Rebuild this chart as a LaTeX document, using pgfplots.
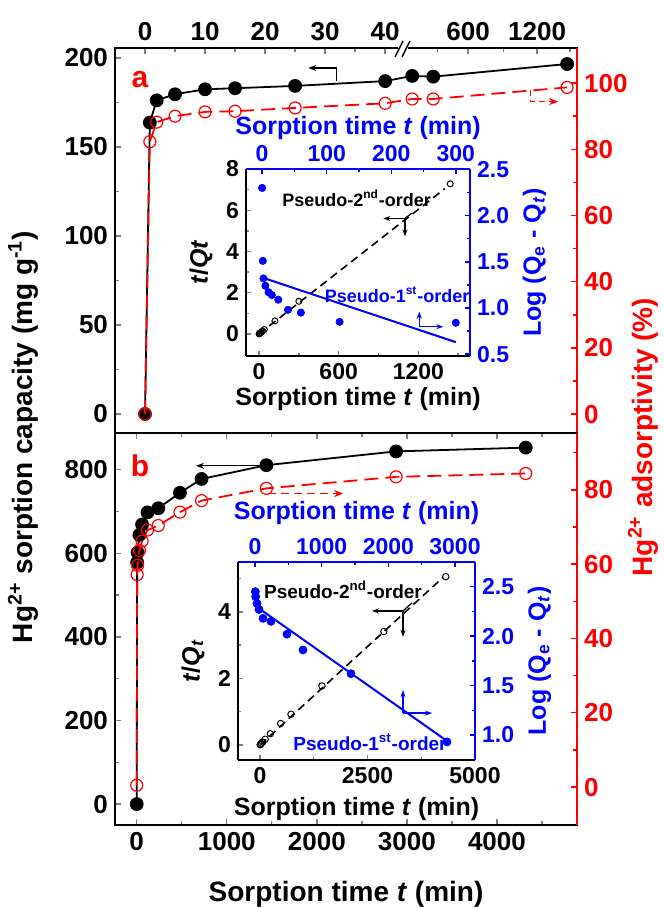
\documentclass[border=0pt]{standalone}
\usepackage{fontspec}
\setmainfont{Liberation Sans}
\usepackage{pgfplots}
\pgfplotsset{compat=1.18}
\usetikzlibrary{arrows.meta}

\definecolor{hgred}{RGB}{255,0,0}
\definecolor{fitblue}{RGB}{0,0,255}

\newcommand\fs[1]{\fontsize{#1}{#1}\selectfont\bfseries}

\pgfplotsset{
  base/.style={
    scale only axis, anchor=north west, clip=false,
    tick align=inside,
    axis line style={line width=0.9pt},
    major tick length=3pt, minor tick length=1.8pt,
    every tick/.append style={line width=0.7pt},
    /pgf/number format/assume math mode=true,
    /pgf/number format/1000 sep={},
    tick label style={font=\fs{13}},
    label style={font=\fs{14}},
  },
  inset/.style={base,
    tick label style={font=\fs{11.5}},
    label style={font=\fs{12.5}},
    major tick length=2.5pt, minor tick length=1.5pt,
  },
  redaxis/.style={
    axis y line*=right, axis x line=none, xtick=\empty,
    y axis line style={hgred}, y tick style={hgred}, y tick label style={hgred},
  },
  blueaxis/.style={
    axis x line*=top, axis y line*=right,
    axis line style={fitblue}, tick style={fitblue},
    tick label style={fitblue}, label style={fitblue},
  },
  capline/.style={black, line width=0.9pt, mark=*, mark size=3pt},
  adsline/.style={hgred, line width=0.9pt, dash pattern=on 7pt off 3.5pt,
    mark=o, mark size=3pt, mark options={solid, fill=white, line width=0.6pt}},
}

\begin{document}
\begin{tikzpicture}
\path[use as bounding box] (0pt,0pt) rectangle (331.5pt,-454pt);

% ---------- panel a (x: 0-40 min linear, then compressed after the break) ----------
\begin{axis}[base, at={(57.5pt,-24pt)}, width=231pt, height=192.5pt,
  xmin=-5, xmax=71.95, ymin=-10.7, ymax=205.6,
  xtick pos=right, xticklabel pos=right, ytick pos=left,
  xtick={0,10,20,30,40,53.8,65.3}, xticklabels={0,10,20,30,40,600,1200},
  minor xtick={5,15,25,35,48.7,59.7,70.8},
  ytick={0,50,100,150,200}, minor ytick={25,75,125,175},
]
% t = 0,1,2,5,10,15,25,40 | 120,300,1440 min (axis position after the break)
\addplot[capline] coordinates {
  (0,0) (0.8,163.7) (1.95,176.2) (5,179.6) (10,182.4) (15,183) (25,184.3)
  (40,187) (44.5,189.9) (48,189.5) (70.3,196.6)};
\draw[line width=0.6pt, -{Stealth[length=4pt,width=3pt]}]
  (axis cs:31.9,187.2) -- (axis cs:31.9,194.4) -- (axis cs:27.2,194.4);
\end{axis}

\begin{axis}[base, redaxis, at={(57.5pt,-24pt)}, width=231pt, height=192.5pt,
  xmin=-5, xmax=71.95, ymin=-5.7, ymax=110.6,
  ytick={0,20,40,60,80,100}, minor ytick={10,30,50,70,90},
]
\addplot[adsline] coordinates {
  (0,0) (0.8,82.3) (1.95,88.2) (5,90) (10,91.3) (15,91.5) (25,92.5)
  (40,93.9) (44.5,95.2) (48,95.2) (70.3,98.7)};
\draw[hgred, line width=0.7pt, dash pattern=on 3pt off 2pt, -{Stealth[length=4.5pt,width=3.5pt]}]
  (axis cs:64.2,97.9) -- (axis cs:64.2,94.4) -- (axis cs:68.8,94.4);
\end{axis}

% axis break on the top axis
\fill[white] (199pt,-22.6pt) rectangle (204pt,-25.4pt);
\draw[line width=0.7pt] (197.5pt,-28.5pt) -- (201.5pt,-20.5pt);
\draw[line width=0.7pt] (201pt,-28.5pt) -- (205pt,-20.5pt);

% ---------- panel b ----------
\begin{axis}[base, at={(57.5pt,-216.5pt)}, width=231pt, height=196pt,
  xmin=-241, xmax=4889, ymin=-50, ymax=888,
  xtick pos=both, xticklabel pos=left, ytick pos=left,
  xtick={0,1000,2000,3000,4000}, minor xtick={500,1500,2500,3500,4500},
  ytick={0,200,400,600,800}, minor ytick={100,300,500,700},
]
\addplot[capline] coordinates {
  (0,0) (5,578) (10,602) (30,644) (60,669) (120,698) (240,708)
  (480,745) (720,778) (1440,811) (2880,844) (4320,853)};
\draw[line width=0.6pt, -{Stealth[length=4pt,width=3pt]}]
  (axis cs:1437,809.5) -- (axis cs:659,809.5);
\end{axis}

\begin{axis}[base, redaxis, at={(57.5pt,-216.5pt)}, width=231pt, height=196pt,
  xmin=-241, xmax=4889, ymin=-10.2, ymax=95.3,
  ytick={0,20,40,60,80}, minor ytick={10,30,50,70,90},
]
\addplot[adsline] coordinates {
  (0,0.5) (5,57.2) (10,59.7) (30,63.7) (60,66.2) (120,69.2) (240,70.4)
  (480,74) (720,77.1) (1440,80.4) (2880,83.5) (4320,84.4)};
\draw[hgred, line width=0.9pt, dash pattern=on 4pt off 2.5pt, -{Stealth[length=4.5pt,width=3.5pt]}]
  (axis cs:1459,79) -- (axis cs:2292,79);
\end{axis}

% ---------- inset a ----------
\begin{axis}[inset, at={(123pt,-84.5pt)}, width=112pt, height=93.5pt,
  xmin=-98, xmax=1589, ymin=-1.07, ymax=8,
  axis x line*=bottom, axis y line*=left,
  xtick={0,600,1200}, minor xtick={300,900,1500},
  ytick={0,2,4,6,8}, minor ytick={1,3,5,7},
  xlabel={Sorption time \textit{t} (min)}, ylabel={\textit{t}/\textit{Qt}},
  xlabel style={yshift=3pt},
]
\addplot[black, line width=0.8pt, dash pattern=on 4pt off 2.5pt] coordinates {(0,0) (1400,7.05)};
\addplot[only marks, mark=o, mark size=1.5pt, mark options={fill=white, line width=0.5pt}, black]
  coordinates {(1,0.0061) (2,0.0114) (5,0.028) (10,0.055) (15,0.082) (25,0.136)
  (40,0.214) (120,0.632) (300,1.583) (1440,7.28)};
\draw[line width=0.6pt, -{Stealth[length=3.5pt,width=2.5pt]}] (axis cs:1099,5.60) -- (axis cs:936,5.60);
\draw[line width=0.6pt, -{Stealth[length=3.5pt,width=2.5pt]}] (axis cs:1099,5.60) -- (axis cs:1099,4.73);
\draw[line width=0.6pt] (axis cs:1099,5.60) -- (axis cs:1150,5.86);
\node[font=\fs{9}] at (axis cs:735,6.57) {Pseudo-2\textsuperscript{nd}-order};
\node[font=\fs{9}, fitblue] at (axis cs:1040,1.89) {Pseudo-1\textsuperscript{st}-order};
\draw[fitblue, line width=0.6pt, -{Stealth[length=3.5pt,width=2.5pt]}] (axis cs:1207,0.35) -- (axis cs:1207,1.08);
\draw[fitblue, line width=0.6pt, -{Stealth[length=3.5pt,width=2.5pt]}] (axis cs:1207,0.35) -- (axis cs:1388,0.35);
\end{axis}

\begin{axis}[inset, blueaxis, at={(123pt,-84.5pt)}, width=112pt, height=93.5pt,
  xmin=-25, xmax=322, ymin=0.48, ymax=2.505,
  xtick={0,100,200,300}, minor xtick={50,150,250},
  ytick={0.5,1.0,1.5,2.0,2.5}, minor ytick={0.75,1.25,1.75,2.25},
  yticklabel style={/pgf/number format/.cd, fixed, fixed zerofill, precision=1},
  xlabel={Sorption time \textit{t} (min)},
  ylabel={Log (Q\textsubscript{e} - Q\textsubscript{\textit{t}})},
  xlabel style={yshift=-4pt},
]
\addplot[fitblue, line width=1pt] coordinates {(0,1.33) (300,0.63)};
\addplot[only marks, mark=*, mark size=1.8pt, fitblue] coordinates {
  (0,2.30) (1,1.51) (2,1.32) (5,1.24) (10,1.17) (15,1.14) (25,1.09)
  (40,0.98) (60,0.95) (120,0.85) (300,0.84)};
\end{axis}

% ---------- inset b ----------
\begin{axis}[inset, at={(119pt,-281pt)}, width=118.5pt, height=99pt,
  xmin=-512, xmax=5000, ymin=-0.45, ymax=5.5,
  axis x line*=bottom, axis y line*=left,
  xtick={0,2500,5000}, minor xtick={1250,3750},
  ytick={0,2,4}, minor ytick={1,3,5},
  xlabel={Sorption time \textit{t} (min)},
  ylabel={\textit{t}/\textit{Q}\textsubscript{\textit{t}}},
]
\addplot[black, line width=0.8pt, dash pattern=on 4pt off 2.5pt] coordinates {(0,0) (4250,5.03)};
\addplot[only marks, mark=o, mark size=1.6pt, mark options={fill=white, line width=0.5pt}, black]
  coordinates {(5,0.0087) (10,0.0166) (30,0.047) (60,0.090) (120,0.173) (240,0.34)
  (480,0.647) (720,0.925) (1440,1.776) (2880,3.41) (4320,5.06)};
\draw[line width=0.6pt, -{Stealth[length=3.5pt,width=2.5pt]}] (axis cs:3326,4.03) -- (axis cs:2605,4.03);
\draw[line width=0.6pt, -{Stealth[length=3.5pt,width=2.5pt]}] (axis cs:3326,4.03) -- (axis cs:3326,3.25);
\draw[line width=0.6pt] (axis cs:3326,4.03) -- (axis cs:3535,4.27);
\node[font=\fs{9.5}] at (axis cs:1930,4.66) {Pseudo-2\textsuperscript{nd}-order};
\node[font=\fs{9.5}, fitblue] at (axis cs:2558,0.09) {Pseudo-1\textsuperscript{st}-order};
\draw[fitblue, line width=0.6pt, -{Stealth[length=3.5pt,width=2.5pt]}] (axis cs:3326,0.96) -- (axis cs:3326,1.65);
\draw[fitblue, line width=0.6pt, -{Stealth[length=3.5pt,width=2.5pt]}] (axis cs:3326,0.96) -- (axis cs:4000,0.96);
\end{axis}

\begin{axis}[inset, blueaxis, at={(119pt,-281pt)}, width=118.5pt, height=99pt,
  xmin=-255, xmax=3300, ymin=0.747, ymax=2.75,
  xtick={0,1000,2000,3000}, minor xtick={500,1500,2500},
  ytick={1.0,1.5,2.0,2.5}, minor ytick={1.25,1.75,2.25},
  yticklabel style={/pgf/number format/.cd, fixed, fixed zerofill, precision=1},
  xlabel={Sorption time \textit{t} (min)},
  ylabel={Log (Q\textsubscript{e} - Q\textsubscript{\textit{t}})},
]
\addplot[fitblue, line width=1pt] coordinates {(60,2.28) (2900,0.93)};
\addplot[only marks, mark=*, mark size=2pt, fitblue] coordinates {
  (5,2.45) (10,2.40) (30,2.33) (60,2.27) (120,2.18) (240,2.15)
  (480,2.02) (720,1.86) (1440,1.62) (2880,0.93)};
\end{axis}

% ---------- shared labels ----------
\node[font=\fs{15}, hgred] at (70pt,-40pt) {a};
\node[font=\fs{15}, hgred] at (70pt,-233pt) {b};
\node[rotate=90, font=\fs{14}] at (11.5pt,-218.5pt)
  {Hg\textsuperscript{2+} sorption capacity (mg g\textsuperscript{-1})};
\node[rotate=90, font=\fs{14}, hgred] at (321.5pt,-218.5pt)
  {Hg\textsuperscript{2+} adsorptivity (\%)};
\node[font=\fs{14}] at (173pt,-447pt) {Sorption time \textit{t} (min)};
\end{tikzpicture}
\end{document}
